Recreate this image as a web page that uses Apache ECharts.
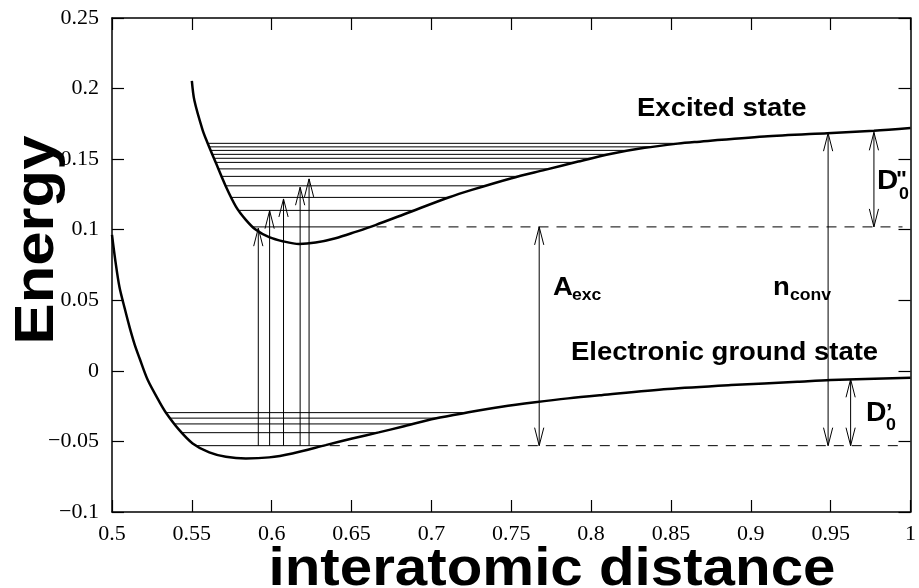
<!DOCTYPE html>
<html><head><meta charset="utf-8">
<script src="https://cdn.jsdelivr.net/npm/echarts@6/dist/echarts.min.js"></script>
<style>html,body{margin:0;padding:0;background:#fff}#main{width:919px;height:588px}</style>
</head><body><div id="main"></div>
<script>
// ---- data ----
const xRange = [0.5, 1.0];
const yRange = [-0.1, 0.25];
const tickStep = 0.05;

// Electronic ground state potential curve [distance, energy]
const groundCurve = [
  [0.5000, 0.0963], [0.5022, 0.0772], [0.5047, 0.0592], [0.5079, 0.0445],
  [0.5110, 0.0310], [0.5141, 0.0190], [0.5172, 0.0091], [0.5224, -0.0065],
  [0.5297, -0.0219], [0.5339, -0.0298], [0.5422, -0.0420], [0.5505, -0.0514],
  [0.5609, -0.0578], [0.5713, -0.0609], [0.5838, -0.0621], [0.5984, -0.0613],
  [0.6129, -0.0585], [0.6338, -0.0526], [0.6504, -0.0479], [0.6670, -0.0436],
  [0.6816, -0.0396], [0.7024, -0.0337], [0.7232, -0.0294], [0.7440, -0.0255],
  [0.7649, -0.0223], [0.7856, -0.0195], [0.8064, -0.0172], [0.8480, -0.0129],
  [0.8876, -0.0101], [0.9292, -0.0077], [0.9500, -0.0065], [1.0000, -0.0049]
];

// Excited state potential curve [distance, energy]
const excitedCurve = [
  [0.5500, 0.2055], [0.5516, 0.1915], [0.5567, 0.1708], [0.5599, 0.1613],
  [0.5651, 0.1472], [0.5713, 0.1306], [0.5776, 0.1164], [0.5838, 0.1070],
  [0.5901, 0.0999], [0.5984, 0.0947], [0.6074, 0.0917], [0.6171, 0.0899],
  [0.6275, 0.0909], [0.6400, 0.0940], [0.6525, 0.0985], [0.6650, 0.1033],
  [0.6858, 0.1122], [0.7107, 0.1228], [0.7253, 0.1282], [0.7502, 0.1365],
  [0.7711, 0.1424], [0.7919, 0.1483], [0.8127, 0.1538], [0.8335, 0.1580],
  [0.8543, 0.1610], [0.8647, 0.1621], [0.9084, 0.1660], [0.9479, 0.1684],
  [0.9771, 0.1701], [1.0000, 0.1720]
];

// vibrational levels (energies)
const groundLevels = [-0.0296, -0.0335, -0.0376, -0.0438, -0.0530];
const excitedLevels = [0.1612, 0.1587, 0.1562, 0.1534, 0.1506, 0.1477,
                       0.1431, 0.1378, 0.1311, 0.1229, 0.1137, 0.1020];

// dashed reference levels (zero-point levels) and where they stop
const groundZeroLevel = -0.0530;
const excitedZeroLevel = 0.1020;
const dashedEndX = 0.995;

// vertical excitation arrows: x positions and tip energies
const excitationX = [0.5916, 0.5987, 0.6074, 0.6178, 0.6234];
const excitationTop = [0.1011, 0.1135, 0.1218, 0.1301, 0.1360];

// double-headed annotation arrows: [x, energyFrom, energyTo]
const annotationArrows = [
  [0.7675, -0.0530, 0.1020],  // A_exc
  [0.9484, -0.0530, 0.1684],  // n_conv
  [0.9771, 0.1020, 0.1690],   // D''_0
  [0.9625, -0.0530, -0.0060]  // D'_0
];

// ---- helpers ----
function crossings(curve, y) {
  let iMin = 0;
  curve.forEach((p, i) => { if (p[1] < curve[iMin][1]) iMin = i; });
  let left = null, right = null;
  for (let i = iMin; i > 0; i--) {
    const a = curve[i - 1], b = curve[i];
    if ((a[1] - y) * (b[1] - y) <= 0) { left = a[0] + (y - a[1]) * (b[0] - a[0]) / (b[1] - a[1]); break; }
  }
  for (let i = iMin; i < curve.length - 1; i++) {
    const a = curve[i], b = curve[i + 1];
    if ((a[1] - y) * (b[1] - y) <= 0) { right = a[0] + (y - a[1]) * (b[0] - a[0]) / (b[1] - a[1]); break; }
  }
  return [left, right];
}

const segments = []; // [x1, y1, x2, y2, dashed]
groundLevels.forEach(y => { const c = crossings(groundCurve, y); segments.push([c[0], y, c[1], y, 0]); });
excitedLevels.forEach(y => { const c = crossings(excitedCurve, y); segments.push([c[0], y, c[1], y, 0]); });
segments.push([crossings(groundCurve, groundZeroLevel)[1] + 0.004, groundZeroLevel, dashedEndX, groundZeroLevel, 1]);
segments.push([crossings(excitedCurve, excitedZeroLevel)[1] + 0.004, excitedZeroLevel, dashedEndX, excitedZeroLevel, 1]);

const arrows = []; // [x, yFrom, yTo, headFrom, headTo]
excitationX.forEach((x, i) => arrows.push([x, groundZeroLevel, excitationTop[i], 0, 1]));
annotationArrows.forEach(a => arrows.push([a[0], a[1], a[2], 1, 1]));

const fmt = v => (+v.toFixed(2)).toString().replace('-', '\u2212');

const chart = echarts.init(document.getElementById('main'), null, { renderer: 'canvas' });
const axisLineStyle = { color: '#000', width: 1.5 };
const tickStyle = { color: '#000', width: 1.2 };
const labelStyle = { color: '#000', fontFamily: 'Liberation Serif', fontSize: 22 };

function head(px, py, dir) {
  const L = 18, W = 4.6;
  return { type: 'polyline', shape: { points: [[px - W, py + dir * L], [px, py], [px + W, py + dir * L]] },
           style: { stroke: '#000', fill: null, lineWidth: 1 } };
}

function makeAxis(pos, showLabel, extra) {
  const isX = pos === 'bottom' || pos === 'top';
  const r = isX ? xRange : yRange;
  return Object.assign({
    type: 'value', min: r[0], max: r[1], interval: tickStep, position: pos,
    axisLine: { show: true, onZero: false, lineStyle: axisLineStyle },
    axisTick: { show: true, inside: true, length: 12, lineStyle: tickStyle },
    axisLabel: showLabel ? Object.assign({ formatter: fmt }, labelStyle, extra) : { show: false },
    splitLine: { show: false }
  });
}

const option = {
  animation: false,
  backgroundColor: '#fff',
  grid: { left: 112, top: 18, width: 801, height: 494 },
  xAxis: [ makeAxis('bottom', true, { margin: 11 }), makeAxis('top', false) ],
  yAxis: [ makeAxis('left', true, { margin: 13 }), makeAxis('right', false) ],
  series: [
    { type: 'custom', name: 'levels', xAxisIndex: 0, yAxisIndex: 0, data: segments,
      encode: { x: [0, 2], y: [1, 3] },
      renderItem: (params, api) => {
        const p1 = api.coord([api.value(0), api.value(1)]);
        const p2 = api.coord([api.value(2), api.value(3)]);
        const dashed = api.value(4) === 1;
        return { type: 'line', shape: { x1: p1[0], y1: p1[1], x2: p2[0], y2: p2[1] },
                 style: { stroke: '#000', lineWidth: 1, lineDash: dashed ? [10, 8] : null } };
      } },
    { type: 'custom', name: 'arrows', xAxisIndex: 0, yAxisIndex: 0, data: arrows,
      encode: { x: 0, y: [1, 2] },
      renderItem: (params, api) => {
        const x = api.value(0);
        const p0 = api.coord([x, api.value(1)]);
        const p1 = api.coord([x, api.value(2)]);
        const dir = p1[1] < p0[1] ? 1 : -1;
        const children = [{ type: 'line', shape: { x1: p0[0], y1: p0[1], x2: p1[0], y2: p1[1] },
                            style: { stroke: '#000', lineWidth: 1 } }];
        if (api.value(4) === 1) children.push(head(p1[0], p1[1], dir));
        if (api.value(3) === 1) children.push(head(p0[0], p0[1], -dir));
        return { type: 'group', children };
      } },
    { type: 'line', name: 'Electronic ground state', data: groundCurve, showSymbol: false,
      smooth: 0.3, lineStyle: { color: '#000', width: 2.5 }, z: 5 },
    { type: 'line', name: 'Excited state', data: excitedCurve, showSymbol: false,
      smooth: 0.3, lineStyle: { color: '#000', width: 2.5 }, z: 5 }
  ],
  graphic: [
    { type: 'text', x: 38, y: 240, rotation: Math.PI / 2, scaleX: 1.1,
      style: { text: 'Energy', fontFamily: 'Liberation Sans', fontWeight: 'bold', fontSize: 56, fill: '#000', align: 'center', verticalAlign: 'middle' } },
    { type: 'text', x: 552, y: 570, scaleX: 1.1,
      style: { text: 'interatomic distance', fontFamily: 'Liberation Sans', fontWeight: 'bold', fontSize: 53, fill: '#000', align: 'center', verticalAlign: 'middle' } },
    { type: 'text', x: 637, y: 109, scaleX: 1.1,
      style: { text: 'Excited state', fontFamily: 'Liberation Sans', fontWeight: 'bold', fontSize: 25, fill: '#000', align: 'left', verticalAlign: 'middle' } },
    { type: 'text', x: 571, y: 353, scaleX: 1.1,
      style: { text: 'Electronic ground state', fontFamily: 'Liberation Sans', fontWeight: 'bold', fontSize: 25, fill: '#000', align: 'left', verticalAlign: 'middle' } },
    { type: 'text', x: 553, y: 288, scaleX: 1.1,
      style: { text: 'A', fontFamily: 'Liberation Sans', fontWeight: 'bold', fontSize: 25, fill: '#000', align: 'left', verticalAlign: 'middle' } },
    { type: 'text', x: 572, y: 296, scaleX: 1.1,
      style: { text: 'exc', fontFamily: 'Liberation Sans', fontWeight: 'bold', fontSize: 16, fill: '#000', align: 'left', verticalAlign: 'middle' } },
    { type: 'text', x: 773, y: 288, scaleX: 1.1,
      style: { text: 'n', fontFamily: 'Liberation Sans', fontWeight: 'bold', fontSize: 25, fill: '#000', align: 'left', verticalAlign: 'middle' } },
    { type: 'text', x: 790, y: 296, scaleX: 1.1,
      style: { text: 'conv', fontFamily: 'Liberation Sans', fontWeight: 'bold', fontSize: 16, fill: '#000', align: 'left', verticalAlign: 'middle' } },
    { type: 'text', x: 877, y: 181, scaleX: 1.05,
      style: { text: 'D', fontFamily: 'Liberation Sans', fontWeight: 'bold', fontSize: 28, fill: '#000', align: 'left', verticalAlign: 'middle' } },
    { type: 'text', x: 896, y: 180, scaleX: 1.05,
      style: { text: '"', fontFamily: 'Liberation Sans', fontWeight: 'bold', fontSize: 22, fill: '#000', align: 'left', verticalAlign: 'middle' } },
    { type: 'text', x: 899, y: 194, scaleX: 1.05,
      style: { text: '0', fontFamily: 'Liberation Sans', fontWeight: 'bold', fontSize: 17, fill: '#000', align: 'left', verticalAlign: 'middle' } },
    { type: 'text', x: 866, y: 414, scaleX: 1.05,
      style: { text: 'D', fontFamily: 'Liberation Sans', fontWeight: 'bold', fontSize: 27, fill: '#000', align: 'left', verticalAlign: 'middle' } },
    { type: 'text', x: 886, y: 413, scaleX: 1.05,
      style: { text: '\u2019', fontFamily: 'Liberation Sans', fontWeight: 'bold', fontSize: 22, fill: '#000', align: 'left', verticalAlign: 'middle' } },
    { type: 'text', x: 886, y: 425, scaleX: 1.05,
      style: { text: '0', fontFamily: 'Liberation Sans', fontWeight: 'bold', fontSize: 17, fill: '#000', align: 'left', verticalAlign: 'middle' } }
  ]
};
chart.setOption(option);
</script>
</body></html>
